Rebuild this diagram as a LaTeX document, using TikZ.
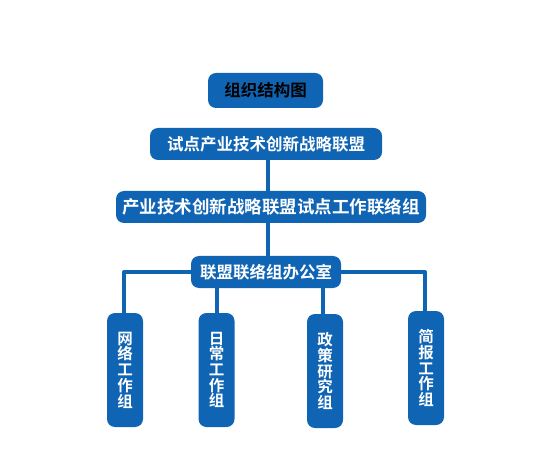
\documentclass[tikz,border=0pt]{standalone}
\usepackage{fontspec}
\newfontfamily\cjk{Noto Sans CJK SC Bold}
\definecolor{orgblue}{RGB}{16,100,180}
\begin{document}
\begin{tikzpicture}[x=1bp,y=-1bp,
  box/.style={fill=orgblue,rounded corners=8bp,inner sep=0pt,text=white,font=\cjk\fontsize{16.5bp}{18bp}\selectfont},
  leaf/.style={box,minimum width=36bp,minimum height=114bp,align=center,font=\cjk\fontsize{15.5bp}{15.7bp}\selectfont},
  conn/.style={draw=orgblue,line width=4bp,line join=round}]
\useasboundingbox (0,0) rectangle (548,473);
\node[box,minimum width=115bp,minimum height=35bp,text=black] (title) at (265.5,90.5) {组织结构图};
\node[box,minimum width=232bp,minimum height=32bp] (b2) at (266,144) {试点产业技术创新战略联盟};
\node[box,minimum width=310bp,minimum height=32bp,font=\cjk\fontsize{17.5bp}{18bp}\selectfont] (b3) at (271,207) {产业技术创新战略联盟试点工作联络组};
\node[box,minimum width=150bp,minimum height=32bp] (b4) at (266,272) {联盟联络组办公室};
\node[leaf] (l1) at (125,370) {网\\络\\工\\作\\组};
\node[leaf] (l2) at (216.5,370) {日\\常\\工\\作\\组};
\node[leaf] (l3) at (325,371) {政\\策\\研\\究\\组};
\node[leaf] (l4) at (426,368) {简\\报\\工\\作\\组};
\coordinate (c23) at (268,0);
\begin{scope}[on background layer/.try]
\end{scope}
\draw[conn] (b2.south -| c23) -- (b3.north -| c23);
\draw[conn] (b3.south -| c23) -- (b4.north -| c23);
\draw[conn] (l1.north -| 124,0) |- (b4.west);
\draw[conn] (l4.north -| 425,0) |- (b4.east);
\draw[conn] (b4.south -| 217,0) -- (l2.north -| 217,0);
\draw[conn] (b4.south -| 323,0) -- (l3.north -| 323,0);
\end{tikzpicture}
\end{document}
